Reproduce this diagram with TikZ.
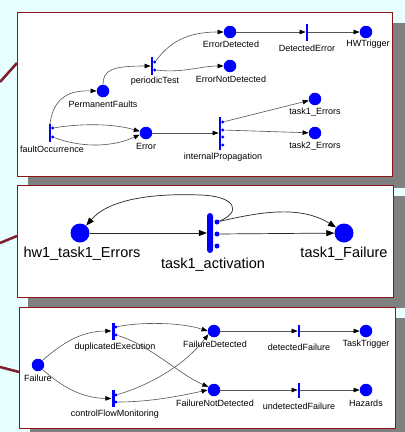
\documentclass[tikz,border=0pt]{standalone}
\usepackage{fontspec}
\setmainfont{Liberation Sans}
\usetikzlibrary{arrows.meta}
\definecolor{bgcyan}{RGB}{232,255,255}
\definecolor{framered}{RGB}{139,20,20}
\definecolor{shadowgrey}{RGB}{128,128,128}
\definecolor{linkred}{RGB}{128,32,48}
\definecolor{edgegrey}{RGB}{85,85,85}
\begin{document}
\begin{tikzpicture}[x=1pt,y=-1pt,
  place/.style={circle,fill=blue,inner sep=0pt,minimum size=12.5pt},
  bigplace/.style={circle,fill=blue,inner sep=0pt,minimum size=19pt},
  tbar/.style={rectangle,fill=blue,inner sep=0pt,minimum width=2.4pt},
  pinpt/.style={circle,fill=blue,inner sep=0pt,minimum size=3.2pt},
  bigpin/.style={circle,fill=blue,inner sep=0pt,minimum size=5pt},
  lab/.style={font=\fontsize{9}{10}\selectfont,inner sep=0pt},
  biglab/.style={font=\fontsize{14.5}{16}\selectfont,inner sep=0pt},
  arc/.style={draw=edgegrey,line width=0.6pt,-{Triangle[length=6pt,width=4.5pt,color=black]}},
  bigarc/.style={draw=black!85,line width=0.7pt,-{Triangle[length=8pt,width=6pt,color=black]}},
  panel/.style={draw=framered,line width=1pt,fill=white},
  shade/.style={fill=shadowgrey},
  link/.style={draw=linkred,line width=2.6pt}]

% canvas
\fill[bgcyan] (0,0) rectangle (405,432);
\useasboundingbox (0,0) rectangle (405,432);

% drop shadows
\fill[shade] (28,23) rectangle (405,188);
\fill[shade] (28,196) rectangle (405,308);
\fill[shade] (30,318) rectangle (405,432);

% connecting strokes on the left
\draw[link] (0,82) -- (17,63);
\draw[link] (0,243) -- (17,236);
\draw[link] (0,367) -- (19,372);

% panels
\draw[panel] (17,12) rectangle (392,176);
\draw[panel] (17,185) rectangle (393,297);
\draw[panel] (19,307) rectangle (395,428);

% ---------- panel 1: fault propagation ----------
\node[tbar,minimum height=18pt] (fo) at (50,133) {};
\node[pinpt] (fo1) at (52.8,128) {};
\node[pinpt] (fo2) at (52.8,137) {};
\node[lab] (folab) at (52,149) {faultOccurrence};

\node[place] (pf) at (103,91) {};
\node[lab] (pflab) at (103,104) {PermanentFaults};

\node[tbar,minimum height=18pt] (pt) at (152,66) {};
\node[pinpt] (pt1) at (154.8,62) {};
\node[pinpt] (pt2) at (154.8,70) {};
\node[lab] (ptlab) at (155,81) {periodicTest};

\node[place] (ed) at (230,32) {};
\node[lab] (edlab) at (231,44) {ErrorDetected};
\node[tbar,minimum height=17pt] (de) at (307,32) {};
\node[lab] (delab) at (307,48) {DetectedError};
\node[place] (hw) at (366,32) {};
\node[lab] (hwlab) at (368,44) {HWTrigger};

\node[place] (end) at (230,66) {};
\node[lab] (endlab) at (231,79) {ErrorNotDetected};

\node[place] (err) at (146,133) {};
\node[lab] (errlab) at (146,146) {Error};

\node[tbar,minimum height=33pt] (ip) at (220,133) {};
\node[pinpt] (ip1) at (222.8,122) {};
\node[pinpt] (ip2) at (222.8,130) {};
\node[pinpt] (ip3) at (222.8,137) {};
\node[pinpt] (ip4) at (222.8,145) {};
\node[lab] (iplab) at (223,157) {internalPropagation};

\node[place] (t1) at (315,99) {};
\node[lab] (t1lab) at (315,112) {task1\_Errors};
\node[place] (t2) at (315,133) {};
\node[lab] (t2lab) at (315,146) {task2\_Errors};

\draw[arc] (fo.north) .. controls (53,102) and (64,90) .. (pf.west);
\draw[arc] (pf.north) .. controls (103,70) and (112,66) .. (pt.west);
\draw[arc] (pt1) .. controls (166,48) and (180,32) .. (ed.west);
\draw[arc] (pt2) .. controls (185,73) and (200,66) .. (end.west);
\draw[arc] (ed) -- (de);
\draw[arc] (de) -- (hw);
\draw[arc] (fo1) .. controls (85,123) and (115,124) .. (err.165);
\draw[arc] (fo2) .. controls (85,149) and (115,146) .. (err.195);
\draw[arc] (err) -- (ip);
\draw[arc] (ip1) -- (t1);
\draw[arc] (ip2) -- (t2);

% ---------- panel 2: task activation ----------
\node[bigplace] (hwe) at (80,233) {};
\node[biglab] (hwelab) at (82,254) {hw1\_task1\_Errors};
\node[tbar,minimum width=6pt,minimum height=40pt,rounded corners=3pt] (ta) at (210,233) {};
\node[bigpin] (ta1) at (217,222) {};
\node[bigpin] (ta2) at (217,234) {};
\node[bigpin] (ta3) at (217,246) {};
\node[biglab] (talab) at (213,265) {task1\_activation};
\node[bigplace] (tf) at (344,233) {};
\node[biglab] (tflab) at (344,254) {task1\_Failure};

\draw[bigarc] (hwe) -- (ta);
\draw[bigarc] (ta2) -- (tf);
\draw[bigarc] (ta1) .. controls (242,212) and (236,196) .. (200,195)
              .. controls (150,193) and (108,200) .. (hwe.50);
\draw[bigarc] (ta1) .. controls (260,212) and (300,205) .. (tf.145);

% ---------- panel 3: failure detection ----------
\node[place] (fa) at (38,365) {};
\node[lab] (falab) at (38,378) {Failure};

\node[tbar,minimum width=3pt,minimum height=17pt] (dx) at (113,331) {};
\node[pinpt] (dx1) at (116,327) {};
\node[pinpt] (dx2) at (116,335) {};
\node[lab] (dxlab) at (115,347) {duplicatedExecution};

\node[tbar,minimum width=3pt,minimum height=17pt] (cf) at (113,398.5) {};
\node[pinpt] (cf1) at (116,395) {};
\node[pinpt] (cf2) at (116,402) {};
\node[lab] (cflab) at (115,414) {controlFlowMonitoring};

\node[place] (fd) at (214,331) {};
\node[lab] (fdlab) at (215,344) {FailureDetected};
\node[place] (fnd) at (214,390) {};
\node[lab] (fndlab) at (215,403) {FailureNotDetected};

\node[tbar,minimum height=12pt] (df) at (299,331) {};
\node[lab] (dflab) at (299,347) {detectedFailure};
\node[tbar,minimum height=15pt] (uf) at (299,390) {};
\node[lab] (uflab) at (299,406) {undetectedFailure};

\node[place] (tt) at (366,331) {};
\node[lab] (ttlab) at (366,344) {TaskTrigger};
\node[place] (hz) at (366,390) {};
\node[lab] (hzlab) at (366,403) {Hazards};

\draw[arc] (fa.north east) .. controls (60,345) and (80,331) .. (dx.west);
\draw[arc] (fa.south east) .. controls (60,385) and (80,398) .. (cf.west);
\draw[arc] (dx1) .. controls (140,322) and (180,322) .. (fd.west);
\draw[arc] (dx2) .. controls (150,345) and (180,375) .. (fnd.150);
\draw[arc] (cf1) .. controls (150,385) and (185,365) .. (fd.210);
\draw[arc] (cf2) .. controls (150,402) and (180,396) .. (fnd.west);
\draw[arc] (fd) -- (df);
\draw[arc] (df) -- (tt);
\draw[arc] (fnd) -- (uf);
\draw[arc] (uf) -- (hz);
\end{tikzpicture}
\end{document}
